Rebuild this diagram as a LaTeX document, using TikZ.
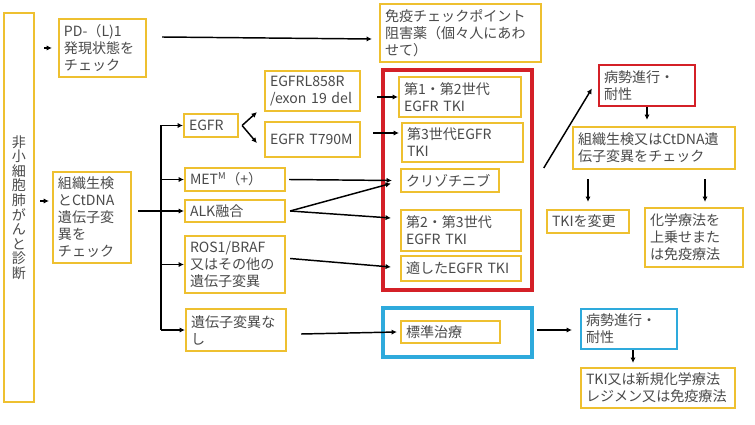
\documentclass[tikz,border=0pt]{standalone}
\usepackage{fontspec}
\newfontfamily\jpfont{Noto Sans CJK JP}
\usepackage{tikz}
\usetikzlibrary{arrows.meta, calc}
\definecolor{boxyellow}{HTML}{EEC030}
\definecolor{framered}{HTML}{D42027}
\definecolor{frameblue}{HTML}{2EAADC}
\definecolor{textgrey}{HTML}{4A4A4A}
\tikzset{
    block/.style={rectangle, draw=boxyellow, line width=1.9pt, fill=white, align=left, inner xsep=4.25pt, inner ysep=1pt, text=textgrey, font=\jpfont\fontsize{12}{14.5}\selectfont},
    redblock/.style={block, draw=framered, line width=1.9pt},
    blueblock/.style={block, draw=frameblue, line width=1.9pt},
    group/.style={rectangle, line width=3pt, inner sep=0pt},
    arrow/.style={-{Latex[length=1.6mm, width=1.6mm]}, line width=1.25pt},
    link/.style={line width=1.25pt},
}

\begin{document}
\begin{tikzpicture}[x=0.03cm, y=-0.03cm]
    \useasboundingbox (0,0) rectangle (755,425);
    % frames behind the treatment boxes
    \node[group, draw=framered, minimum width=4.47cm, minimum height=6.6cm] (tkigroup) at (457.5,180) {};
    \node[group, draw=frameblue, minimum width=4.47cm, minimum height=1.47cm] (stdgroup) at (457.5,332.5) {};

    \node[block, text width=12pt, align=center, minimum width=0.9cm, minimum height=11.67cm, font=\jpfont\fontsize{12}{12.4}\selectfont] (diag) at (19,207.5) {非\\小\\細\\胞\\肺\\が\\ん\\と\\診\\断};
    \node[block, text width=2.31cm, minimum height=1.74cm] (pd) at (102.5,48) {PD-（L)1\\発現状態を\\チェック};
    \node[block, text width=4.53cm, minimum height=1.74cm] (ici) at (460.5,33) {免疫チェックポイント\\阻害薬（個々人にあわ\\せて）};
    \node[block, text width=2.04cm, minimum height=2.73cm] (tissue) at (92,217.5) {組織生検\\とCtDNA\\遺伝子変\\異を\\チェック};

    \node[block, text width=1.32cm, minimum height=0.69cm] (egfr) at (211,125.5) {EGFR};
    \node[block, text width=2.55cm, minimum height=1.2cm] (l858) at (312.5,91) {EGFRL858R\\/exon 19 del};
    \node[block, text width=2.55cm, minimum height=1.05cm] (t790) at (312.5,139.5) {EGFR T790M};
    \node[block, text width=2.7cm, minimum height=0.69cm] (met) at (235,179.5) {MET\textsuperscript{M}（+）};
    \node[block, text width=2.7cm, minimum height=0.66cm] (alk) at (235,211) {ALK融合};
    \node[block, text width=2.7cm, minimum height=1.71cm] (ros) at (235,264.5) {ROS1/BRAF\\又はその他の\\遺伝子変異};
    \node[block, text width=2.7cm, minimum height=1.26cm] (none) at (236,330) {遺伝子変異な\\し};

    \node[block, text width=3.36cm, minimum height=1.2cm] (gen12) at (460,97) {第1・第2世代\\EGFR TKI};
    \node[block, text width=3.33cm, minimum height=1.17cm] (gen3) at (462.5,142.5) {第3世代EGFR\\TKI};
    \node[block, text width=2.64cm, minimum height=0.69cm] (crizo) at (450,180.5) {クリゾチニブ};
    \node[block, text width=3.3cm, minimum height=1.23cm] (gen23) at (461,230.5) {第2・第3世代\\EGFR TKI};
    \node[block, text width=3.3cm, minimum height=0.75cm] (suited) at (461,268.5) {適したEGFR TKI};
    \node[block, text width=2.67cm, minimum height=0.66cm] (std) at (450.5,332) {標準治療};

    \node[redblock, text width=2.58cm, minimum height=1.23cm] (prog) at (647,85.5) {病勢進行・\\耐性};
    \node[block, text width=4.56cm, minimum height=1.26cm] (retest) at (654,148) {組織生検又はCtDNA遺\\伝子変異をチェック};
    \node[block, text width=2.16cm, minimum height=0.69cm] (switch) at (588,221.5) {TKIを変更};
    \node[block, text width=2.64cm, minimum height=1.77cm] (chemo) at (694,237.5) {化学療法を\\上乗せまた\\は免疫療法};
    \node[blueblock, text width=2.58cm, minimum height=1.2cm] (stdprog) at (629,329) {病勢進行・\\耐性};
    \node[block, text width=4.32cm, minimum height=1.2cm] (next) at (658,388) {TKI又は新規化学療法\\レジメン又は免疫療法};

    \coordinate (trunk) at (161,0);
    \coordinate (split) at ($(egfr.east)+(3,0)$);

    \draw[arrow] ($(diag.east |- pd.west)+(9,0)$) -- ($(pd.west)+(-6,0)$);
    \draw[arrow] ($(diag.east |- tissue.west)+(5,-16.5)$) -- ($(tissue.west)+(-3,-16.5)$);
    \draw[arrow] ($(pd.east)+(15,-11)$) -- ($(ici.west)+(-7,6)$);
    \draw[arrow] ($(tissue.east |- alk.west)+(6,0)$) -- (alk.west);
    \draw[arrow] (trunk |- none.west) |- (egfr.west);
    \draw[arrow] (trunk |- none.west) -- (none.west);
    \draw[arrow] (trunk |- met.west) -- (met.west);
    \draw[arrow] (trunk |- ros.west) -- (ros.west);
    \draw[arrow] (split) -- ($(l858.south west)+(-7,0)$);
    \draw[arrow] (split) -- ($(t790.west)+(-7,3.5)$);

    \draw[arrow] ($(l858.east)+(16,6)$) -- (gen12.west);
    \draw[arrow] ($(t790.east)+(12,-6.5)$) -- ($(gen3.west)+(-2,-9.5)$);
    \draw[arrow] ($(met.east)+(3,0)$) -- ($(crizo.west)+(-8,0)$);
    \draw[arrow] ($(alk.east)+(4,0)$) -- ($(crizo.west)+(-9,3)$);
    \draw[arrow] ($(alk.east)+(4,0)$) -- ($(gen23.west)+(-9,-12.5)$);
    \draw[arrow] ($(ros.east)+(4,-6)$) -- ($(suited.west)+(-9,-1.5)$);
    \draw[arrow] ($(none.east)+(14,4)$) -- ($(std.west)+(-3,0)$);

    \draw[arrow] ($(tkigroup.east)+(10,-12)$) -- ($(prog.west)+(-6,3)$);
    \draw[arrow] (prog.south) -- ($(prog.south |- retest.north)+(0,-6)$);
    \draw[arrow] ($(retest.south -| switch.north)+(0,9)$) -- ($(switch.north)+(0,-7)$);
    \draw[arrow] ($(retest.south -| chemo.north)+(11,9)$) -- ($(chemo.north)+(11,-5)$);
    \draw[arrow] ($(stdgroup.east)+(3,-2.5)$) -- ($(stdprog.west)+(-8,1)$);
    \draw[arrow] ($(stdprog.south)+(4,0)$) -- ($(next.north -| stdprog.south)+(4,-4)$);
\end{tikzpicture}
\end{document}
